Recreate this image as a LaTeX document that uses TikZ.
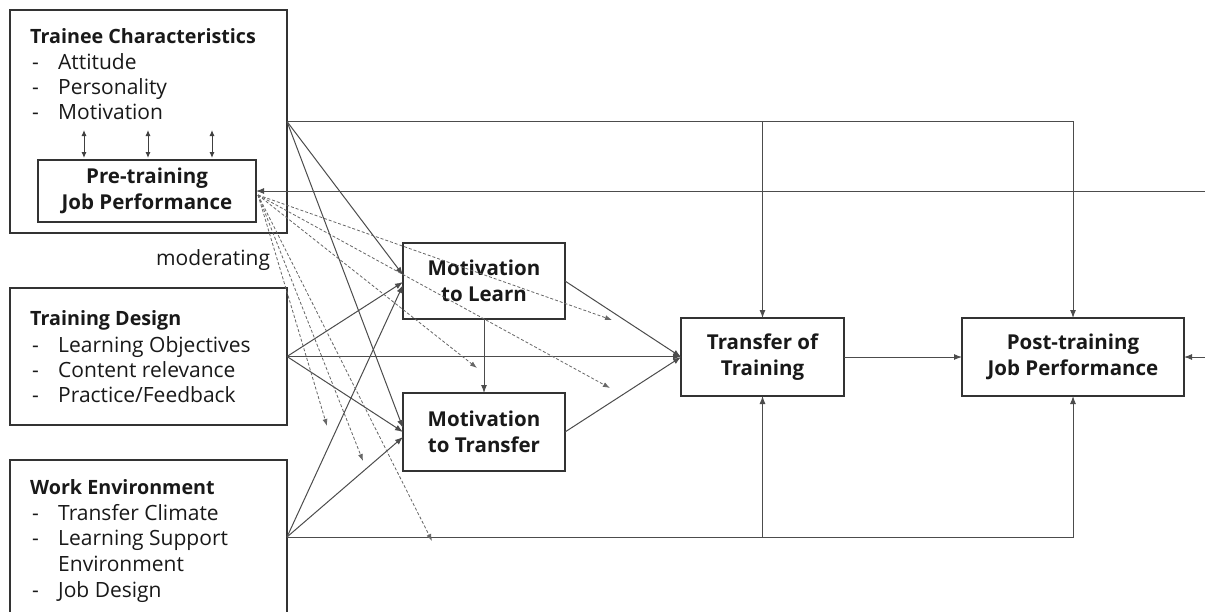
\documentclass[tikz,border=0pt]{standalone}
\usepackage{fontspec}
\setmainfont{Open Sans}
\usetikzlibrary{arrows.meta}
\newcommand\litem[1]{\makebox[26pt][l]{-}#1}
\begin{document}
\begin{tikzpicture}[x=1pt,y=-1pt,
  box/.style={draw=black!80,line width=1.6pt,inner sep=0pt,outer sep=0pt},
  btxt/.style={font=\fontsize{20.5}{25.5}\selectfont\bfseries,align=center,text=black!90},
  ltxt/.style={anchor=base west,inner sep=0pt,font=\fontsize{21}{25}\selectfont,text=black!90},
  ttl/.style={ltxt,font=\fontsize{19.7}{25}\selectfont\bfseries},
  conn/.style={draw=black!70,line width=1pt,-{Latex[length=8pt,width=6pt]}},
  dbl/.style={draw=black!75,line width=1pt,{Latex[length=6pt,width=5pt]}-{Latex[length=6pt,width=5pt]}},
  modarr/.style={draw=black!60,line width=0.8pt,dash pattern=on 3pt off 2pt,-{Latex[length=7pt,width=5pt]}},
]
\useasboundingbox (0,0) rectangle (1205,611);
\fill[white] (0,0) rectangle (1205,611);
\clip (0,0) rectangle (1205,611);

% left boxes
\node[box,minimum width=277pt,minimum height=223pt] (tc) at (148.5,121.5) {};
\node[box,btxt,minimum width=218pt,minimum height=62pt] (pre) at (147,191) {Pre-training\\Job Performance};
\node[box,minimum width=277pt,minimum height=137pt] (td) at (148.5,356.5) {};
\node[box,minimum width=277pt,minimum height=154pt] (we) at (148.5,537) {};

% texts in left boxes
\node[ttl] (tct) at (30,43) {Trainee Characteristics};
\node[ltxt] (tc1) at (32,69) {\litem{Attitude}};
\node[ltxt] (tc2) at (32,94) {\litem{Personality}};
\node[ltxt] (tc3) at (32,119) {\litem{Motivation}};

\node[ttl] (tdt) at (30,325) {Training Design};
\node[ltxt] (td1) at (32,352) {\litem{Learning Objectives}};
\node[ltxt] (td2) at (32,377) {\litem{Content relevance}};
\node[ltxt] (td3) at (32,402) {\litem{Practice/Feedback}};

\node[ttl] (wet) at (30,494) {Work Environment};
\node[ltxt] (we1) at (32,520) {\litem{Transfer Climate}};
\node[ltxt] (we2) at (32,545) {\litem{Learning Support}};
\node[ltxt] (we3) at (58,571) {Environment};
\node[ltxt] (we4) at (32,597) {\litem{Job Design}};

\node[ltxt] (modl) at (156,265) {moderating};

% middle and right boxes
\node[box,btxt,minimum width=162pt,minimum height=76pt] (ml) at (484,281) {Motivation\\to Learn};
\node[box,btxt,minimum width=162pt,minimum height=78pt] (mt) at (484,432) {Motivation\\to Transfer};
\node[box,btxt,minimum width=163pt,minimum height=78pt] (tt) at (762.5,357) {Transfer of\\Training};
\node[box,btxt,minimum width=222pt,minimum height=78pt] (pj) at (1073,357) {Post-training\\Job Performance};

% double arrows inside trainee box
\foreach \dx in {-63,1,65}
  \draw[dbl] ([xshift=\dx pt,yshift=2pt]pre.north) -- ++(0,-28);

% free ends
\coordinate (r1) at (1206,191);
\coordinate (r2) at (1206,357);
\coordinate (d1) at (612,320);
\coordinate (d2) at (477,368);
\coordinate (d3) at (610,388);
\coordinate (d4) at (327,426);
\coordinate (d5) at (363,461);
\coordinate (d6) at (432,541);

% solid connectors
\draw[conn] (tc.east) -| (pj.north);
\draw[conn] (tc.east -| tt.north) -- (tt.north);
\draw[conn] (r1) -- (pre.east);
\draw[conn] (r2) -- (pj.east);
\draw[conn] (we.east) -| (pj.south);
\draw[conn] (we.east -| tt.south) -- (tt.south);
\draw[conn] (td.east) -- (td.east -| tt.west);
\draw[conn] (tt) -- (pj);
\draw[conn] (ml) -- (mt);
\draw[conn] (ml.east) -- (tt.west);
\draw[conn] (mt.east) -- (tt.west);

\draw[conn] (tc.east) -- ([yshift=6pt]ml.west);
\draw[conn] (tc.east) -- ([yshift=4pt]mt.west);
\draw[conn] (td.east) -- ([yshift=-1pt]ml.west);
\draw[conn] (td.east) -- (mt.west);
\draw[conn] (we.east) -- ([yshift=-4pt]ml.west);
\draw[conn] (we.east) -- ([yshift=-5pt]mt.west);

% moderating (dashed) connectors
\foreach \d in {d1,d2,d3,d4,d5,d6}
  \draw[modarr] ([xshift=2pt,yshift=-4pt]pre.east) -- (\d);
\end{tikzpicture}
\end{document}
